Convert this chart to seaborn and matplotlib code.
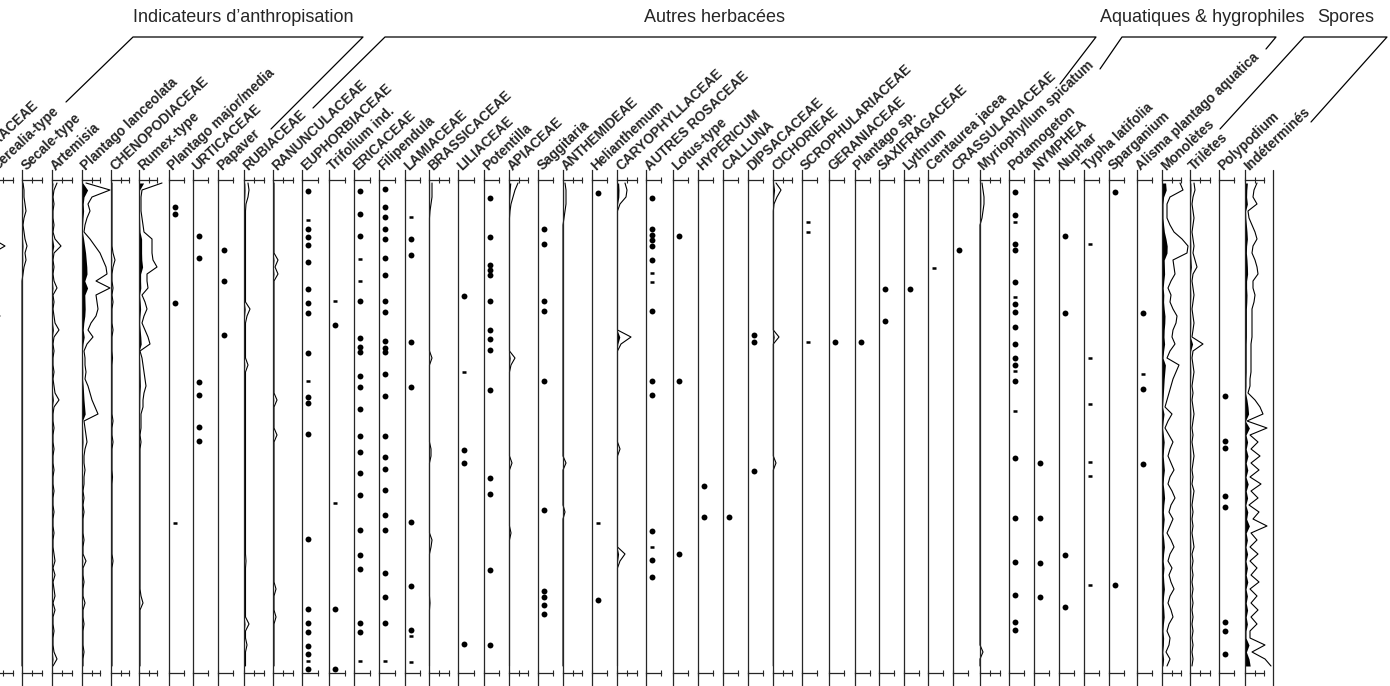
import seaborn as sns
import matplotlib.pyplot as plt
from matplotlib.lines import Line2D

sns.set_theme(style="white")
plt.rcParams['font.family'] = ['Liberation Sans', 'DejaVu Sans']

W, H = 1390, 686
TOP, BOT = 180, 673          # pixel rows of the top / bottom axis lines
YMAX = BOT - TOP             # depth range shown (cm)

# sample depths (cm)
depth = [3, 10, 17, 24, 31, 38, 45, 52, 59, 66,
         73, 80, 87, 94, 101, 108, 115, 122, 129, 136,
         143, 150, 157, 164, 171, 178, 185, 192, 199, 206,
         213, 220, 227, 234, 241, 248, 255, 262, 269, 276,
         283, 290, 297, 304, 311, 318, 325, 332, 339, 346,
         353, 360, 367, 374, 381, 388, 395, 402, 409, 416,
         423, 430, 437, 444, 451, 458, 465, 472, 479, 486]

# ---- taxa drawn as curves (%) ----
cerealia = [0, 0, 0, 0, 0, 0, 0, 0, 0, 1.2,
            0, 0, 0, 0, 0, 0, 0, 0, 0, 0.7,
            0, 0, 0, 0, 0, 0, 0, 0, 0, 0,
            0, 0, 0, 0, 0, 0, 0, 0, 0, 0,
            0, 0, 0, 0, 0, 0, 0, 0, 0, 0,
            0, 0, 0, 0, 0, 0, 0, 0, 0, 0,
            0, 0, 0, 0, 0, 0, 0, 0, 0, 0]
secale = [0.1, 0.2, 0.2, 0.3, 0.4, 0.2, 0.1, 0.2, 0.3, 0.5,
          0.3, 0.4, 0.2, 0.1, 0, 0, 0, 0, 0, 0,
          0, 0, 0, 0, 0, 0, 0, 0, 0, 0,
          0, 0, 0, 0, 0, 0, 0, 0, 0, 0,
          0, 0, 0, 0, 0, 0, 0, 0, 0, 0,
          0, 0, 0, 0, 0, 0, 0, 0, 0, 0,
          0, 0, 0, 0, 0, 0, 0, 0, 0, 0]
artemisia = [0.5, 0.2, 0.1, 0.2, 0.1, 0.1, 0.2, 0.1, 0.3, 0.9,
             0.2, 0.1, 0.2, 0.1, 0.2, 0.5, 0.1, 0.2, 0.1, 0.2,
             0.3, 0.7, 0.2, 0.1, 0.2, 0.1, 0.1, 0.2, 0.1, 0.2,
             0.3, 0.7, 0.2, 0.1, 0.1, 0.2, 0.1, 0.1, 0.2, 0.1,
             0.1, 0.2, 0.1, 0.1, 0.2, 0.1, 0.1, 0.2, 0.1, 0.1,
             0.2, 0.1, 0.1, 0.2, 0.3, 0.1, 0.3, 0.1, 0.2, 0.3,
             0.1, 0.3, 0.1, 0.1, 0.2, 0.1, 0.1, 0.2, 0.5, 0.1]
pl_lanceolata = [0.4, 2.8, 1.0, 0.6, 0.8, 0.5, 0.3, 0.2, 0.8, 1.3,
                 1.8, 2.1, 2.4, 2.5, 1.4, 2.8, 1.4, 1.5, 1.6, 1.4,
                 0.9, 0.6, 1.1, 0.5, 0.2, 0.3, 0.3, 0.4, 0.3, 0.6,
                 0.8, 1.0, 1.3, 1.6, 0.2, 0.3, 0.4, 0.5, 0.3, 0.2,
                 0.2, 0.3, 0.2, 0.2, 0.1, 0.2, 0.1, 0.2, 0.1, 0.1,
                 0.1, 0.2, 0.1, 0.1, 0.4, 0.1, 0.1, 0.2, 0.1, 0.1,
                 0.3, 0.1, 0.1, 0.2, 0.1, 0.1, 0.1, 0.2, 0.1, 0.1]
chenopodiaceae = [0.1, 0.1, 0.1, 0.1, 0.1, 0.1, 0.1, 0.1, 0.1, 0.1,
                  0.2, 0.4, 0.2, 0.1, 0.1, 0.2, 0.1, 0.2, 0.1, 0.1,
                  0.1, 0.2, 0.1, 0.1, 0.1, 0.15, 0.1, 0.1, 0.1, 0.1,
                  0.1, 0.1, 0.1, 0.1, 0.2, 0.1, 0.1, 0.2, 0.1, 0.1,
                  0.1, 0.1, 0.15, 0.1, 0.1, 0.1, 0.1, 0.1, 0.1, 0.1,
                  0.1, 0.1, 0.1, 0.1, 0.2, 0.1, 0.1, 0.1, 0.1, 0.1,
                  0.1, 0.1, 0.1, 0.1, 0.1, 0.1, 0.1, 0.1, 0.1, 0.1]
rumex = [2.3, 0.3, 0.2, 0.2, 0.2, 0.3, 0.4, 0.5, 1.3, 1.3,
         1.3, 1.4, 1.8, 0.8, 0.8, 0.9, 0.3, 0.6, 0.8, 0.5,
         0.3, 0.6, 0.9, 1.1, 0.1, 0.3, 0.4, 0.5, 0.6, 0.7,
         0.5, 0.4, 0.4, 0.2, 0.2, 0.2, 0.1, 0.2, 0.1, 0.1,
         0.1, 0.1, 0.1, 0.1, 0.1, 0.1, 0.1, 0.1, 0.1, 0.1,
         0.1, 0.1, 0.1, 0.1, 0.1, 0.1, 0.1, 0.1, 0.1, 0.2,
         0.4, 0.1, 0.1, 0.1, 0.1, 0.1, 0.1, 0.1, 0.1, 0.1]
rubiaceae = [0.4, 0.5, 0.4, 0.2, 0.15, 0.15, 0.15, 0.15, 0.15, 0.15,
             0.15, 0.15, 0.15, 0.15, 0.15, 0.15, 0.15, 0.15, 0.6, 0.3,
             0.15, 0.15, 0.15, 0.15, 0.15, 0.15, 0.4, 0.15, 0.15, 0.15,
             0.15, 0.15, 0.15, 0.15, 0.15, 0.15, 0.15, 0.15, 0.15, 0.15,
             0.15, 0.15, 0.15, 0.15, 0.15, 0.15, 0.15, 0.15, 0.15, 0.15,
             0.15, 0.15, 0.15, 0.15, 0.2, 0.15, 0.15, 0.15, 0.15, 0.15,
             0.15, 0.15, 0.15, 0.5, 0.15, 0.15, 0.3, 0.15, 0.15, 0.15]
ranunculaceae = [0.1, 0.1, 0.1, 0.1, 0.1, 0.1, 0.1, 0.1, 0.1, 0.1,
                 0.1, 0.5, 0.2, 0.5, 0.1, 0.1, 0.1, 0.1, 0.1, 0.1,
                 0.1, 0.1, 0.1, 0.1, 0.1, 0.1, 0.1, 0.1, 0.1, 0.1,
                 0.1, 0.4, 0.1, 0.1, 0.1, 0.1, 0.4, 0.1, 0.1, 0.1,
                 0.1, 0.1, 0.1, 0.1, 0.1, 0.1, 0.1, 0.1, 0.1, 0.1,
                 0.1, 0.1, 0.1, 0.1, 0.1, 0.1, 0.1, 0.1, 0.3, 0.1,
                 0.1, 0.1, 0.3, 0.1, 0.1, 0.1, 0.1, 0.1, 0.1, 0.1]
brassicaceae = [0.3, 0.3, 0.3, 0.2, 0.1, 0.05, 0.05, 0.05, 0.05, 0.05,
                0.05, 0.05, 0.05, 0.05, 0.05, 0.05, 0.05, 0.05, 0.05, 0.05,
                0.05, 0.05, 0.05, 0.05, 0.05, 0.3, 0.05, 0.05, 0.05, 0.05,
                0.05, 0.05, 0.05, 0.05, 0.05, 0.05, 0.05, 0.05, 0.2, 0.2,
                0.05, 0.05, 0.05, 0.05, 0.05, 0.05, 0.05, 0.05, 0.05, 0.05,
                0.05, 0.3, 0.2, 0.05, 0.05, 0.05, 0.05, 0.05, 0.05, 0.05,
                0.1, 0.05, 0.05, 0.05, 0.05, 0.05, 0.05, 0.05, 0.05, 0.05]
apiaceae = [0.9, 0.6, 0.4, 0.2, 0.1, 0.05, 0.05, 0.05, 0.05, 0.05,
            0.05, 0.05, 0.05, 0.05, 0.05, 0.05, 0.05, 0.05, 0.05, 0.05,
            0.05, 0.05, 0.05, 0.05, 0.05, 0.6, 0.2, 0.05, 0.05, 0.05,
            0.05, 0.05, 0.05, 0.05, 0.05, 0.05, 0.05, 0.05, 0.05, 0.05,
            0.3, 0.05, 0.05, 0.05, 0.05, 0.05, 0.05, 0.05, 0.05, 0.05,
            0.2, 0.05, 0.05, 0.05, 0.05, 0.05, 0.05, 0.05, 0.05, 0.05,
            0.05, 0.05, 0.05, 0.05, 0.05, 0.05, 0.05, 0.05, 0.05, 0.05]
anthemideae = [0.2, 0.3, 0.3, 0.3, 0.2, 0.1, 0, 0, 0, 0,
               0, 0, 0, 0, 0, 0, 0, 0, 0, 0,
               0, 0, 0, 0, 0, 0, 0, 0, 0, 0,
               0, 0, 0, 0, 0, 0, 0, 0, 0, 0,
               0.3, 0, 0, 0, 0, 0, 0, 0.2, 0, 0,
               0, 0, 0, 0, 0, 0, 0, 0, 0, 0,
               0, 0, 0, 0, 0, 0, 0, 0, 0, 0]
caryophyllaceae = [0.8, 1.0, 0.9, 0.3, 0.05, 0.05, 0.05, 0.05, 0.05, 0.05,
                   0.05, 0.05, 0.05, 0.05, 0.05, 0.05, 0.05, 0.05, 0.05, 0.05,
                   0.05, 0.05, 1.4, 0.4, 0.05, 0.05, 0.05, 0.05, 0.05, 0.05,
                   0.05, 0.05, 0.05, 0.05, 0.05, 0.05, 0.05, 0.05, 0.3, 0.05,
                   0.05, 0.05, 0.05, 0.05, 0.05, 0.05, 0.05, 0.05, 0.05, 0.05,
                   0.05, 0.05, 0.05, 0.8, 0.3, 0.05, 0.05, 0.05, 0.05, 0.05,
                   0.05, 0.05, 0.05, 0.05, 0.05, 0.05, 0.05, 0.05, 0.05, 0.05]
cichorieae = [0.3, 0.8, 0.4, 0.1, 0.03, 0.03, 0.03, 0.03, 0.03, 0.03,
              0.03, 0.03, 0.03, 0.03, 0.03, 0.03, 0.03, 0.03, 0.03, 0.03,
              0.03, 0.03, 0.6, 0.03, 0.03, 0.03, 0.03, 0.03, 0.03, 0.03,
              0.03, 0.03, 0.03, 0.03, 0.03, 0.03, 0.03, 0.03, 0.03, 0.03,
              0.3, 0.03, 0.03, 0.03, 0.03, 0.03, 0.03, 0.03, 0.03, 0.03,
              0.03, 0.03, 0.03, 0.03, 0.03, 0.03, 0.03, 0.03, 0.03, 0.03,
              0.03, 0.03, 0.03, 0.03, 0.03, 0.03, 0.03, 0.03, 0.03, 0.03]
myriophyllum = [0.2, 0.3, 0.4, 0.4, 0.3, 0.2, 0, 0, 0, 0,
                0, 0, 0, 0, 0, 0, 0, 0, 0, 0,
                0, 0, 0, 0, 0, 0, 0, 0, 0, 0,
                0, 0, 0, 0, 0, 0, 0, 0, 0, 0,
                0, 0, 0, 0, 0, 0, 0, 0, 0, 0,
                0, 0, 0, 0, 0, 0, 0, 0, 0, 0,
                0, 0, 0, 0, 0, 0, 0, 0.3, 0, 0]
monoletes = [1.8, 2.1, 0.8, 0.5, 0.5, 0.5, 0.8, 1.2, 2.0, 2.6,
             2.5, 1.1, 1.2, 1.3, 0.9, 0.6, 0.9, 0.8, 1.1, 1.5,
             1.4, 1.1, 1.0, 1.3, 0.8, 0.5, 1.7, 1.4, 1.1, 0.9,
             0.7, 0.5, 0.3, 1.0, 0.6, 0.3, 0.7, 1.1, 0.8, 0.6,
             0.9, 1.2, 0.8, 0.6, 1.0, 1.3, 0.9, 0.7, 1.1, 0.8,
             0.5, 0.9, 1.2, 0.8, 0.6, 1.0, 0.7, 0.9, 1.2, 0.8,
             0.6, 0.9, 1.1, 0.7, 0.5, 0.8, 0.7, 0.4, 0.8, 0.5]
triletes = [0.4, 0.5, 0.3, 0.2, 0.3, 0.4, 0.3, 0.2, 0.3, 0.4,
            0.3, 0.5, 0.7, 0.3, 0.2, 0.3, 0.4, 0.3, 0.2, 0.3,
            0.4, 0.3, 0.2, 1.3, 0.3, 0.2, 0.3, 0.4, 0.3, 0.2,
            0.3, 0.2, 0.3, 0.4, 0.3, 0.2, 0.3, 0.2, 0.3, 0.4,
            0.3, 0.2, 0.3, 0.2, 0.4, 0.3, 0.2, 0.3, 0.2, 0.3,
            0.2, 0.3, 0.4, 0.2, 0.3, 0.2, 0.3, 0.2, 0.3, 0.2,
            0.3, 0.2, 0.3, 0.2, 0.3, 0.2, 0.3, 0.2, 0.3, 0.2]
indetermines = [1.2, 0.9, 0.8, 1.2, 0.3, 0.4, 0.7, 1.0, 1.2, 0.8,
                0.7, 1.0, 1.2, 1.3, 0.8, 0.8, 1.0, 0.9, 0.7, 0.7,
                0.7, 0.7, 0.7, 0.6, 0.6, 0.6, 0.6, 0.6, 0.5, 0.5,
                0.3, 1.0, 1.5, 1.8, 0.2, 2.2, 0.5, 1.3, 0.6, 1.5,
                0.6, 1.4, 0.5, 1.6, 0.6, 1.3, 0.4, 1.4, 0.8, 2.2,
                0.6, 1.2, 0.5, 1.3, 0.5, 1.2, 0.6, 1.4, 0.5, 1.2,
                0.6, 1.3, 0.6, 1.2, 0.5, 0.5, 2.0, 0.7, 2.0, 2.6]

# ---- presence-only taxa: depths (cm) of single finds, dots and small marks ----
pl_major = [27, 34, 123]
pl_major_small = [343]
urticaceae = [56, 78, 202, 215, 247, 261]
papaver = [70, 101, 155]
euphorbiaceae = [11, 49, 57, 65, 82, 109, 123, 133, 173, 217, 223, 254, 359,
                 429, 443, 452, 466, 474, 489]
euphorbiaceae_small = [40, 201, 481]
trifolium = [145, 429, 489]
trifolium_small = [121, 323]
ericaceae = [11, 34, 56, 121, 158, 167, 172, 196, 207, 229, 256, 272, 293,
             315, 350, 375, 389, 443, 452]
ericaceae_small = [79, 101, 481]
filipendula = [9, 27, 37, 49, 59, 78, 95, 121, 132, 161, 168, 172, 194, 216,
               256, 277, 289, 310, 335, 350, 393, 417, 443]
filipendula_small = [481]
lamiaceae = [59, 75, 162, 207, 342, 406, 450]
lamiaceae_small = [37, 456, 482]
liliaceae = [116, 270, 283, 464]
liliaceae_small = [192]
potentilla = [18, 57, 85, 90, 95, 121, 150, 159, 170, 210, 298, 314, 390, 465]
saggitaria = [49, 64, 121, 131, 201, 330, 411, 417, 425, 434]
helianthemum = [13, 420]
helianthemum_small = [343]
autres_rosaceae = [18, 49, 55, 60, 66, 80, 131, 201, 215, 351, 380, 397]
autres_rosaceae_small = [93, 102, 367]
lotus = [56, 201, 374]
hypericum = [306, 337]
calluna = [337]
dipsacaceae = [155, 162, 291]
scrophulariaceae_small = [42, 52, 162]
geraniaceae = [162]
plantago_sp = [162]
saxifragaceae = [109, 141]
lythrum = [109]
centaurea_small = [88]
crassulariaceae = [70]
potamogeton = [12, 35, 64, 70, 102, 124, 132, 147, 164, 178, 185, 201, 278,
               338, 382, 415, 442, 450]
potamogeton_small = [42, 117, 191, 231]
nymphea = [283, 338, 383, 417]
nuphar = [56, 133, 375, 427]
typha_small = [64, 178, 224, 282, 296, 405]
sparganium = [12, 405]
alisma = [133, 209, 284]
alisma_small = [194]
polypodium = [216, 261, 268, 316, 327, 442, 451, 474]

# label, left edge (px), width (px), curve values, dots, small marks
columns = [
    ("CYPERACEAE", -33, 20, None, None, None),
    ("Cerealia-type", -7, 20, cerealia, None, None),
    ("Secale-type", 22, 20, secale, None, None),
    ("Artemisia", 52, 20, artemisia, None, None),
    ("Plantago lanceolata", 82, 18, pl_lanceolata, None, None),
    ("CHENOPODIACEAE", 111, 18, chenopodiaceae, None, None),
    ("Rumex-type", 139, 18, rumex, None, None),
    ("Plantago major/media", 169, 15, None, pl_major, pl_major_small),
    ("URTICACEAE", 193, 15, None, urticaceae, None),
    ("Papaver", 218, 15, None, papaver, None),
    ("RUBIACEAE", 244, 20, rubiaceae, None, None),
    ("RANUNCULACEAE", 273, 20, ranunculaceae, None, None),
    ("EUPHORBIACEAE", 302, 16, None, euphorbiaceae, euphorbiaceae_small),
    ("Trifolium ind.", 329, 16, None, trifolium, trifolium_small),
    ("ERICACEAE", 354, 16, None, ericaceae, ericaceae_small),
    ("Filipendula", 379, 16, None, filipendula, filipendula_small),
    ("LAMIACEAE", 405, 15, None, lamiaceae, lamiaceae_small),
    ("BRASSICACEAE", 429, 20, brassicaceae, None, None),
    ("LILIACEAE", 458, 16, None, liliaceae, liliaceae_small),
    ("Potentilla", 484, 15, None, potentilla, None),
    ("APIACEAE", 509, 19, apiaceae, None, None),
    ("Saggitaria", 538, 15, None, saggitaria, None),
    ("ANTHEMIDEAE", 563, 19, anthemideae, None, None),
    ("Helianthemum", 592, 15, None, helianthemum, helianthemum_small),
    ("CARYOPHYLLACEAE", 617, 20, caryophyllaceae, None, None),
    ("AUTRES ROSACEAE", 646, 15, None, autres_rosaceae, autres_rosaceae_small),
    ("Lotus-type", 673, 15, None, lotus, None),
    ("HYPERICUM", 698, 15, None, hypericum, None),
    ("CALLUNA", 723, 15, None, calluna, None),
    ("DIPSACACEAE", 748, 15, None, dipsacaceae, None),
    ("CICHORIEAE", 773, 19, cichorieae, None, None),
    ("SCROPHULARIACEAE", 802, 15, None, None, scrophulariaceae_small),
    ("GERANIACEAE", 829, 15, None, geraniaceae, None),
    ("Plantago sp.", 855, 15, None, plantago_sp, None),
    ("SAXIFRAGACEAE", 879, 15, None, saxifragaceae, None),
    ("Lythrum", 904, 15, None, lythrum, None),
    ("Centaurea jacea", 928, 15, None, None, centaurea_small),
    ("CRASSULARIACEAE", 953, 15, None, crassulariaceae, None),
    ("Myriophyllum spicatum", 980, 20, myriophyllum, None, None),
    ("Potamogeton", 1009, 15, None, potamogeton, potamogeton_small),
    ("NYMPHEA", 1034, 15, None, nymphea, None),
    ("Nuphar", 1059, 15, None, nuphar, None),
    ("Typha latifolia", 1084, 15, None, None, typha_small),
    ("Sparganium", 1109, 15, None, sparganium, None),
    ("Alisma plantago aquatica", 1137, 15, None, alisma, alisma_small),
    ("Monolètes", 1162, 19, monoletes, None, None),
    ("Trilètes", 1190, 20, triletes, None, None),
    ("Polypodium", 1219, 15, None, polypodium, None),
    ("Indéterminés", 1245, 19, indetermines, None, None),
]

groups = [
    ("Indicateurs d’anthropisation", 243, [(66, 102), (133, 37), (363, 37), (271, 129)]),
    ("Autres herbacées", 714, [(313, 108), (385, 37), (1096, 37), (1060, 84)]),
    ("Aquatiques & hygrophiles", 1202, [(1100, 69), (1122, 37), (1276, 37), (1266, 49)]),
    ("Spores", 1346, [(1220, 129), (1304, 37), (1387, 37), (1311, 122)]),
]

fig = plt.figure(figsize=(W / 100, H / 100), dpi=100)
LINE = '0.15'

for label, left, width, vals, dots, small in columns:
    ax = fig.add_axes([left / W, 1 - BOT / H, width / W, (BOT - TOP) / H])
    end = width / 2.0           # 2 px per percent
    ax.set_xlim(0, end)
    ax.set_ylim(YMAX, 0)
    ax.patch.set_visible(False)
    ax.spines['right'].set_visible(False)
    for s in ['left', 'top', 'bottom']:
        ax.spines[s].set_color(LINE)
        ax.spines[s].set_linewidth(0.9)
    ax.spines['left'].set_bounds(-10, YMAX + 20)
    ax.set_yticks([])
    ticks = [0, 5, end] if vals is not None else [0, end]
    ax.set_xticks(ticks)
    ax.set_xticklabels([])
    ax.tick_params(axis='x', top=True, bottom=True, direction='inout',
                   length=5, width=0.8, color=LINE)
    ax.grid(False)

    if vals is not None:
        ax.fill_betweenx(depth, 0, vals, color='black', lw=0)
        sns.lineplot(x=[5 * v for v in vals], y=depth, orient='y', sort=False,
                     estimator=None, color='black', lw=0.8, ax=ax, clip_on=False)
    if dots:
        sns.scatterplot(x=[3.2] * len(dots), y=dots, ax=ax, color='black',
                        s=18, linewidth=0, clip_on=False)
    if small:
        sns.scatterplot(x=[3.2] * len(small), y=small, ax=ax, color='black',
                        marker='_', s=12, linewidth=1.8, clip_on=False)
    ax.set_xlabel('')
    ax.set_ylabel('')

    fig.text((left + 4) / W, 1 - 171 / H, label, rotation=43.5,
             rotation_mode='anchor', ha='left', va='baseline',
             fontsize=9.8, fontweight='bold')

# closing line on the right of the last column
fig.add_artist(Line2D([1273 / W, 1273 / W], [1 - 170 / H, 0], color=LINE, lw=0.9))

for title, xc, pts in groups:
    fig.text(xc / W, 1 - 18 / H, title, ha='center', va='center', fontsize=13)
    fig.add_artist(Line2D([p[0] / W for p in pts], [1 - p[1] / H for p in pts],
                          color='black', lw=0.9))

fig.savefig('out.png', dpi=100)
